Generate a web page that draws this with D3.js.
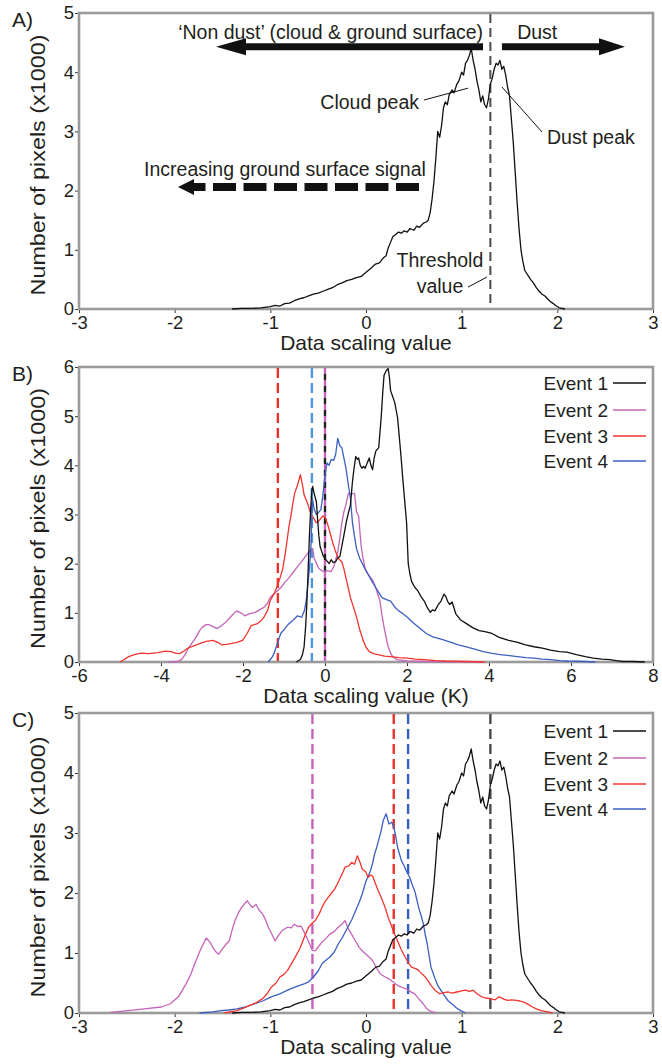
<!DOCTYPE html>
<html><head><meta charset="utf-8">
<script src="https://cdn.jsdelivr.net/npm/d3@7"></script>
<style>
html,body{margin:0;padding:0;background:#fff;}
text{font-family:"Liberation Sans",Arial,sans-serif;fill:#231f20;}
</style></head>
<body><svg id="c" width="662" height="1064"></svg>
<script>
// ---------------- DATA ----------------
const panelLabels = ["A)", "B)", "C)"];
const xLabels = ["Data scaling value", "Data scaling value (K)", "Data scaling value"];
const yLabel = "Number of pixels (x1000)";
const legendNames = ["Event 1", "Event 2", "Event 3", "Event 4"];
const ticksA = [-3,-2,-1,0,1,2,3];
const ticksB = [-6,-4,-2,0,2,4,6,8];
const yTicksA = [0,1,2,3,4,5];
const yTicksB = [0,1,2,3,4,5,6];

// Event 1 (shown in A and C) [value, count x1000]
const event1AC = [[-1.40,0],[-1.30,0.01],[-1.20,0.01],[-1.10,0.02],[-1.00,0.04],[-0.95,0.06],[-0.90,0.05],[-0.85,0.09],[-0.80,0.10],[-0.75,0.14],[-0.70,0.17],[-0.65,0.19],[-0.60,0.22],[-0.55,0.25],[-0.50,0.27],[-0.45,0.30],[-0.40,0.33],[-0.35,0.36],[-0.30,0.41],[-0.25,0.44],[-0.20,0.48],[-0.15,0.50],[-0.10,0.53],[-0.05,0.55],[0.00,0.62],[0.03,0.66],[0.06,0.70],[0.10,0.76],[0.14,0.78],[0.18,0.86],[0.21,0.90],[0.23,1.02],[0.25,1.10],[0.28,1.22],[0.31,1.26],[0.34,1.30],[0.37,1.28],[0.40,1.32],[0.43,1.30],[0.46,1.36],[0.50,1.33],[0.53,1.40],[0.56,1.38],[0.60,1.45],[0.63,1.47],[0.65,1.50],[0.67,1.62],[0.69,1.85],[0.71,2.15],[0.73,2.55],[0.75,3.00],[0.77,2.90],[0.79,3.10],[0.81,3.40],[0.83,3.50],[0.85,3.45],[0.87,3.62],[0.90,3.70],[0.92,3.65],[0.95,3.80],[0.97,3.85],[1.00,4.00],[1.02,3.95],[1.04,4.15],[1.06,4.20],[1.08,4.28],[1.10,4.40],[1.12,4.20],[1.14,4.05],[1.16,3.85],[1.18,3.70],[1.20,3.50],[1.22,3.60],[1.24,3.45],[1.26,3.40],[1.28,3.55],[1.30,3.80],[1.32,3.90],[1.34,4.05],[1.36,4.15],[1.38,4.12],[1.40,4.20],[1.42,4.05],[1.44,4.10],[1.46,3.95],[1.48,3.75],[1.50,3.60],[1.52,3.20],[1.54,2.80],[1.56,2.30],[1.58,1.80],[1.60,1.35],[1.62,1.00],[1.64,0.80],[1.66,0.65],[1.68,0.60],[1.70,0.55],[1.72,0.50],[1.75,0.44],[1.78,0.36],[1.81,0.30],[1.84,0.25],[1.87,0.22],[1.90,0.17],[1.93,0.12],[1.96,0.09],[1.99,0.05],[2.02,0.02],[2.05,0.01],[2.08,0.00]];

// Panel B
const event1B = [[-0.70,0],[-0.60,0.05],[-0.55,0.15],[-0.51,0.31],[-0.47,0.75],[-0.44,1.24],[-0.41,1.9],[-0.38,2.57],[-0.35,3.1],[-0.32,3.5],[-0.30,3.57],[-0.27,3.45],[-0.24,3.35],[-0.21,3.26],[-0.18,2.9],[-0.15,2.57],[-0.12,2.35],[-0.08,2.25],[-0.05,2.17],[0.0,2.1],[0.05,2.05],[0.10,2.0],[0.15,2.08],[0.20,2.02],[0.26,2.04],[0.31,2.12],[0.36,2.14],[0.41,2.35],[0.46,2.57],[0.52,2.85],[0.57,3.03],[0.62,3.19],[0.67,3.67],[0.71,3.95],[0.75,4.18],[0.79,4.12],[0.82,4.15],[0.86,4.0],[0.90,3.94],[0.94,3.98],[0.98,3.94],[1.03,4.05],[1.08,4.15],[1.12,4.0],[1.16,3.91],[1.20,4.15],[1.24,4.29],[1.31,4.36],[1.37,4.97],[1.41,5.5],[1.44,5.83],[1.49,5.92],[1.54,5.97],[1.57,5.8],[1.60,5.52],[1.65,5.4],[1.70,5.28],[1.74,5.1],[1.77,4.97],[1.81,4.6],[1.85,4.22],[1.90,3.7],[1.96,3.12],[1.99,2.83],[2.03,2.0],[2.07,1.8],[2.11,1.64],[2.19,1.52],[2.27,1.44],[2.35,1.32],[2.42,1.24],[2.50,1.10],[2.57,1.01],[2.62,1.06],[2.68,1.04],[2.75,1.15],[2.83,1.24],[2.90,1.38],[2.94,1.34],[3.00,1.22],[3.04,1.17],[3.10,1.22],[3.19,0.98],[3.30,0.86],[3.45,0.78],[3.60,0.70],[3.76,0.64],[3.90,0.62],[4.07,0.58],[4.25,0.50],[4.48,0.44],[4.70,0.40],[4.89,0.35],[5.10,0.31],[5.30,0.28],[5.50,0.24],[5.72,0.21],[5.90,0.20],[6.13,0.15],[6.35,0.11],[6.54,0.08],[6.75,0.06],[6.95,0.05],[7.10,0.03],[7.26,0.01],[7.50,0.01],[7.80,0.0]];
const event2B = [[-3.81,0],[-3.60,0.01],[-3.50,0.05],[-3.42,0.14],[-3.35,0.25],[-3.25,0.38],[-3.14,0.51],[-3.05,0.65],[-2.99,0.71],[-2.90,0.76],[-2.83,0.76],[-2.73,0.72],[-2.63,0.68],[-2.52,0.74],[-2.42,0.81],[-2.30,0.92],[-2.16,1.04],[-2.05,1.0],[-1.96,0.94],[-1.85,0.98],[-1.70,1.01],[-1.60,1.06],[-1.49,1.11],[-1.40,1.2],[-1.34,1.31],[-1.20,1.42],[-1.08,1.51],[-0.98,1.62],[-0.88,1.71],[-0.78,1.82],[-0.67,1.94],[-0.56,2.05],[-0.46,2.17],[-0.38,2.25],[-0.30,2.3],[-0.26,2.1],[-0.15,1.9],[-0.05,1.84],[0.05,1.86],[0.15,1.84],[0.22,1.95],[0.31,2.24],[0.36,2.5],[0.41,2.83],[0.46,3.05],[0.51,3.2],[0.57,3.43],[0.65,3.42],[0.72,3.43],[0.77,3.05],[0.82,2.97],[0.88,2.37],[0.93,2.1],[0.98,1.9],[1.08,1.75],[1.18,1.64],[1.26,1.45],[1.34,1.24],[1.39,0.95],[1.44,0.71],[1.49,0.5],[1.54,0.31],[1.60,0.18],[1.65,0.11],[1.75,0.05],[2.0,0.02],[2.5,0.01],[3.86,0.0]];
const event3B = [[-5.0,0],[-4.9,0.05],[-4.79,0.11],[-4.65,0.15],[-4.48,0.18],[-4.3,0.17],[-4.07,0.19],[-3.9,0.22],[-3.76,0.21],[-3.65,0.18],[-3.55,0.17],[-3.45,0.22],[-3.35,0.28],[-3.2,0.33],[-3.04,0.38],[-2.9,0.42],[-2.73,0.44],[-2.62,0.40],[-2.52,0.35],[-2.4,0.36],[-2.27,0.38],[-2.15,0.40],[-2.01,0.44],[-1.90,0.58],[-1.80,0.74],[-1.65,0.78],[-1.55,0.85],[-1.49,0.91],[-1.40,1.05],[-1.34,1.24],[-1.25,1.38],[-1.18,1.51],[-1.10,1.7],[-1.03,1.9],[-0.98,2.15],[-0.93,2.44],[-0.88,2.75],[-0.82,3.03],[-0.78,3.25],[-0.74,3.43],[-0.67,3.6],[-0.60,3.81],[-0.55,3.6],[-0.51,3.4],[-0.46,3.3],[-0.41,3.19],[-0.36,3.05],[-0.31,2.97],[-0.26,2.9],[-0.21,2.83],[-0.12,2.9],[-0.05,2.97],[0.02,2.92],[0.10,2.7],[0.18,2.45],[0.26,2.24],[0.33,2.1],[0.41,2.04],[0.46,1.9],[0.51,1.71],[0.57,1.5],[0.62,1.31],[0.70,1.1],[0.77,0.91],[0.85,0.65],[0.93,0.44],[1.0,0.3],[1.08,0.21],[1.18,0.17],[1.29,0.15],[1.45,0.12],[1.60,0.11],[1.80,0.09],[2.01,0.08],[2.2,0.06],[2.42,0.05],[2.7,0.03],[2.94,0.02],[3.45,0.01],[3.9,0]];
const event4B = [[-1.39,0],[-1.30,0.08],[-1.24,0.18],[-1.16,0.38],[-1.08,0.58],[-0.98,0.68],[-0.88,0.78],[-0.78,0.85],[-0.67,0.94],[-0.57,0.91],[-0.50,1.05],[-0.46,1.24],[-0.42,1.55],[-0.38,1.9],[-0.34,2.4],[-0.31,3.33],[-0.26,3.1],[-0.21,3.0],[-0.15,3.05],[-0.10,3.1],[-0.05,3.4],[0.0,3.81],[0.05,4.05],[0.10,4.0],[0.15,4.12],[0.21,4.1],[0.26,4.22],[0.31,4.55],[0.36,4.4],[0.41,4.36],[0.46,4.15],[0.51,3.95],[0.57,3.6],[0.62,3.33],[0.67,2.83],[0.72,2.55],[0.77,2.3],[0.85,2.1],[0.93,1.97],[1.0,1.85],[1.08,1.74],[1.16,1.62],[1.24,1.51],[1.32,1.4],[1.39,1.31],[1.50,1.27],[1.60,1.24],[1.70,1.12],[1.80,1.04],[1.90,0.98],[2.01,0.91],[2.15,0.80],[2.32,0.68],[2.47,0.58],[2.63,0.51],[2.85,0.46],[3.04,0.41],[3.25,0.35],[3.45,0.31],[3.65,0.26],[3.86,0.21],[4.05,0.18],[4.27,0.15],[4.5,0.13],[4.69,0.11],[4.9,0.09],[5.10,0.08],[5.3,0.06],[5.51,0.05],[5.72,0.03],[5.92,0.02],[6.33,0.01],[6.6,0]];

// Panel C (Event 1 reuses event1AC)
const event2C = [[-2.67,0.01],[-2.49,0.04],[-2.32,0.07],[-2.14,0.10],[-2.05,0.15],[-1.96,0.27],[-1.88,0.49],[-1.83,0.65],[-1.79,0.82],[-1.75,0.98],[-1.72,1.09],[-1.67,1.25],[-1.63,1.18],[-1.61,1.12],[-1.57,1.02],[-1.54,0.98],[-1.50,1.07],[-1.46,1.15],[-1.43,1.2],[-1.40,1.38],[-1.37,1.54],[-1.33,1.68],[-1.30,1.76],[-1.27,1.82],[-1.24,1.87],[-1.21,1.8],[-1.19,1.76],[-1.15,1.81],[-1.12,1.72],[-1.08,1.65],[-1.05,1.55],[-1.02,1.43],[-0.98,1.3],[-0.95,1.2],[-0.92,1.28],[-0.88,1.37],[-0.85,1.40],[-0.82,1.43],[-0.78,1.42],[-0.75,1.48],[-0.71,1.44],[-0.68,1.45],[-0.65,1.36],[-0.62,1.26],[-0.59,1.15],[-0.56,1.04],[-0.53,1.04],[-0.50,1.10],[-0.46,1.18],[-0.42,1.24],[-0.38,1.31],[-0.33,1.36],[-0.29,1.43],[-0.25,1.48],[-0.22,1.54],[-0.19,1.42],[-0.15,1.31],[-0.11,1.2],[-0.07,1.09],[-0.03,1.02],[0.0,0.98],[0.04,0.92],[0.07,0.87],[0.11,0.75],[0.15,0.65],[0.20,0.60],[0.24,0.57],[0.28,0.52],[0.33,0.46],[0.37,0.43],[0.42,0.40],[0.46,0.36],[0.51,0.32],[0.55,0.24],[0.60,0.15],[0.63,0.08],[0.66,0.04],[0.73,0.0]];
const event3C = [[-1.48,0],[-1.35,0.04],[-1.28,0.08],[-1.21,0.13],[-1.15,0.17],[-1.08,0.24],[-1.03,0.33],[-0.99,0.43],[-0.94,0.50],[-0.90,0.60],[-0.86,0.64],[-0.82,0.71],[-0.78,0.82],[-0.73,0.96],[-0.69,1.08],[-0.66,1.2],[-0.63,1.32],[-0.60,1.43],[-0.56,1.5],[-0.53,1.54],[-0.49,1.65],[-0.46,1.76],[-0.43,1.85],[-0.40,1.92],[-0.36,2.0],[-0.33,2.06],[-0.30,2.15],[-0.27,2.25],[-0.24,2.35],[-0.22,2.43],[-0.18,2.45],[-0.15,2.51],[-0.12,2.48],[-0.09,2.62],[-0.06,2.5],[-0.04,2.4],[0.0,2.35],[0.02,2.26],[0.05,2.3],[0.07,2.28],[0.10,2.15],[0.13,2.03],[0.16,1.92],[0.20,1.76],[0.23,1.6],[0.26,1.48],[0.29,1.35],[0.33,1.2],[0.37,1.05],[0.42,0.9],[0.45,0.82],[0.48,0.76],[0.52,0.74],[0.55,0.71],[0.58,0.66],[0.62,0.6],[0.65,0.53],[0.68,0.46],[0.72,0.38],[0.77,0.32],[0.81,0.34],[0.86,0.35],[0.90,0.33],[0.95,0.35],[1.0,0.37],[1.04,0.38],[1.08,0.36],[1.12,0.38],[1.16,0.32],[1.21,0.27],[1.25,0.25],[1.30,0.24],[1.35,0.22],[1.39,0.27],[1.44,0.23],[1.48,0.21],[1.52,0.22],[1.57,0.21],[1.61,0.20],[1.65,0.18],[1.70,0.14],[1.74,0.1],[1.78,0.07],[1.83,0.04],[1.90,0.02],[1.95,0]];
const event4C = [[-1.74,0],[-1.6,0.02],[-1.52,0.04],[-1.43,0.05],[-1.35,0.07],[-1.26,0.10],[-1.17,0.15],[-1.08,0.20],[-0.99,0.27],[-0.90,0.32],[-0.82,0.38],[-0.73,0.44],[-0.64,0.49],[-0.60,0.52],[-0.55,0.6],[-0.50,0.70],[-0.46,0.82],[-0.42,0.88],[-0.38,0.93],[-0.33,1.02],[-0.29,1.15],[-0.25,1.25],[-0.20,1.4],[-0.15,1.55],[-0.11,1.7],[-0.07,1.85],[-0.04,1.98],[0.0,2.2],[0.04,2.34],[0.07,2.5],[0.09,2.65],[0.11,2.75],[0.13,2.87],[0.16,3.05],[0.18,3.21],[0.21,3.32],[0.24,3.15],[0.27,3.18],[0.29,3.1],[0.31,2.95],[0.33,2.76],[0.35,2.65],[0.37,2.54],[0.40,2.45],[0.42,2.37],[0.46,2.25],[0.48,2.15],[0.51,2.03],[0.53,1.9],[0.55,1.76],[0.58,1.6],[0.60,1.48],[0.62,1.3],[0.64,1.15],[0.66,0.95],[0.68,0.76],[0.72,0.58],[0.75,0.46],[0.79,0.36],[0.82,0.29],[0.86,0.2],[0.90,0.15],[0.95,0.08],[0.99,0.04],[1.04,0]];

// threshold values (vertical dashed lines)
const thresholdA = [1.30];
const thresholdsB = [-1.15, -0.32, 0.0];
const thresholdsC = [1.30, -0.56, 0.29, 0.44];

// ---------------- STYLE ----------------
const colors = ["#111111", "#c564b9", "#f0352f", "#3c5fc2"];
const L = 79, R = 653;
const panels = [
  {top:13, bot:309, xd:[-3,3], yd:[0,5], xt:ticksA, yt:yTicksA},
  {top:367, bot:662, xd:[-6,8], yd:[0,6], xt:ticksB, yt:yTicksB},
  {top:713, bot:1013, xd:[-3,3], yd:[0,5], xt:ticksA, yt:yTicksA}
];
const svg = d3.select("#c");
const frameCol = "#9b9b9b";

function setupPanel(i){
  const p = panels[i];
  const x = d3.scaleLinear().domain(p.xd).range([L,R]);
  const y = d3.scaleLinear().domain(p.yd).range([p.bot,p.top]);
  const g = svg.append("g");
  const ax = g.append("g").attr("transform",`translate(0,${p.bot})`)
    .call(d3.axisBottom(x).tickValues(p.xt).tickSize(4).tickPadding(3).tickFormat(d3.format("d")));
  const ay = g.append("g").attr("transform",`translate(${L},0)`)
    .call(d3.axisLeft(y).tickValues(p.yt).tickSize(4).tickPadding(1).tickFormat(d3.format("d")));
  [ax,ay].forEach(a=>{
    a.select(".domain").remove();
    a.selectAll(".tick line").attr("stroke","#333").attr("stroke-width",1);
    a.selectAll(".tick text").attr("font-size",18.5).attr("font-family","Liberation Sans, Arial, sans-serif").attr("fill","#231f20");
  });
  ax.selectAll(".tick text").text(d=> d<0 ? "-"+Math.abs(d) : d);
  g.append("rect").attr("x",L).attr("y",p.top).attr("width",R-L).attr("height",p.bot-p.top)
    .attr("fill","none").attr("stroke",frameCol).attr("stroke-width",2.6);
  g.append("text").attr("x",(L+R)/2).attr("y",p.bot+41).attr("text-anchor","middle")
    .attr("font-size",21).text(xLabels[i]);
  g.append("text").attr("transform",`translate(45,${(p.top+p.bot)/2 + 4}) rotate(-90) scale(1.14,1)`)
    .attr("text-anchor","middle").attr("font-size",20.5).text(yLabel);
  g.append("text").attr("x",12).attr("y",p.top+14).attr("font-size",21).text(panelLabels[i]);
  return {x,y,g,p};
}

function drawLine(P, data, col, w){
  const line = d3.line().x(d=>P.x(d[0])).y(d=>P.y(d[1]));
  P.g.append("path").datum(data).attr("d",line).attr("fill","none")
    .attr("stroke",col).attr("stroke-width",w||1.3).attr("stroke-linejoin","round");
}
function vdash(P, v, col, dash, off, w){
  P.g.append("line").attr("x1",P.x(v)).attr("x2",P.x(v)).attr("y1",P.p.top+1).attr("y2",P.p.bot-1)
    .attr("stroke",col).attr("stroke-width",w||2.4).attr("stroke-dasharray",dash).attr("stroke-dashoffset",off||0);
}
function legend(P, rows){
  rows.forEach((ry,k)=>{
    P.g.append("text").attr("x",608).attr("y",ry).attr("dy","0.35em").attr("text-anchor","end")
      .attr("font-size",19).text(legendNames[k]);
    P.g.append("line").attr("x1",613).attr("x2",646).attr("y1",ry).attr("y2",ry)
      .attr("stroke",colors[k]).attr("stroke-width",1.4);
  });
}

// ---------- Panel A ----------
const A = setupPanel(0);
vdash(A, thresholdA[0], "#4a4a4a", "9,5", 0, 2);
drawLine(A, event1AC, colors[0], 1.3);
function txt(P, xv, yv, s, anchor, size){
  P.g.append("text").attr("x",P.x(xv)).attr("y",P.y(yv)).attr("dy","0.35em")
    .attr("text-anchor",anchor).attr("font-size",size||19.5).text(s);
}
function seg(P, x1,y1,x2,y2, w, dash){
  const l = P.g.append("line").attr("x1",P.x(x1)).attr("y1",P.y(y1)).attr("x2",P.x(x2)).attr("y2",P.y(y2))
    .attr("stroke","#111").attr("stroke-width",w);
  if(dash) l.attr("stroke-dasharray",dash);
  return l;
}
function head(P, xt, yv, dir, len, half){
  const tx = P.x(xt), ty = P.y(yv);
  const bx = tx - dir*len;
  P.g.append("path").attr("d",`M${tx},${ty}L${bx},${ty-half}L${bx},${ty+half}Z`).attr("fill","#111");
}
txt(A, -0.37, 4.68, "\u2018Non dust\u2019 (cloud & ground surface)", "middle");
txt(A, 1.58, 4.68, "Dust", "start");
seg(A, 1.223, 4.43, -1.40, 4.43, 7);
head(A, -1.568, 4.43, -1, 30, 8.5);
seg(A, 1.421, 4.43, 2.45, 4.43, 7);
head(A, 2.707, 4.43, 1, 26, 8.5);
txt(A, -2.32, 2.37, "Increasing ground surface signal", "start");
A.g.append("line").attr("x1",A.x(0.554)).attr("x2",A.x(-1.80)).attr("y1",A.y(2.06)).attr("y2",A.y(2.06))
  .attr("stroke","#111").attr("stroke-width",8).attr("stroke-dasharray","23,7.5");
head(A, -1.965, 2.06, -1, 16, 8);
txt(A, 0.554, 3.50, "Cloud peak", "end");
seg(A, 0.606, 3.53, 1.066, 3.73, 1);
txt(A, 1.892, 2.91, "Dust peak", "start");
seg(A, 1.421, 3.75, 1.840, 2.99, 1);
txt(A, 0.773, 0.83, "Threshold", "middle");
txt(A, 0.773, 0.38, "value", "middle");
seg(A, 1.066, 0.37, 1.265, 0.54, 1);

// ---------- Panel B ----------
const B = setupPanel(1);
vdash(B, thresholdsB[0], "#e8322c", "10,5");
vdash(B, thresholdsB[1], "#4e96df", "10,5");
vdash(B, thresholdsB[2], "#c564b9", "6,6", 0);
vdash(B, thresholdsB[2], "#222", "6,6", 6);
drawLine(B, event2B, colors[1]);
drawLine(B, event3B, colors[2]);
drawLine(B, event4B, colors[3]);
drawLine(B, event1B, colors[0]);
legend(B, [383,410,436,461]);

// ---------- Panel C ----------
const C = setupPanel(2);
vdash(C, thresholdsC[0], "#4a4a4a", "10,5");
vdash(C, thresholdsC[1], "#c564b9", "10,5");
vdash(C, thresholdsC[2], "#e8322c", "10,5");
vdash(C, thresholdsC[3], "#3c5fc2", "10,5");
drawLine(C, event2C, colors[1]);
drawLine(C, event4C, colors[3]);
drawLine(C, event3C, colors[2]);
drawLine(C, event1AC, colors[0]);
legend(C, [731,758,784,809]);
</script></body></html>
